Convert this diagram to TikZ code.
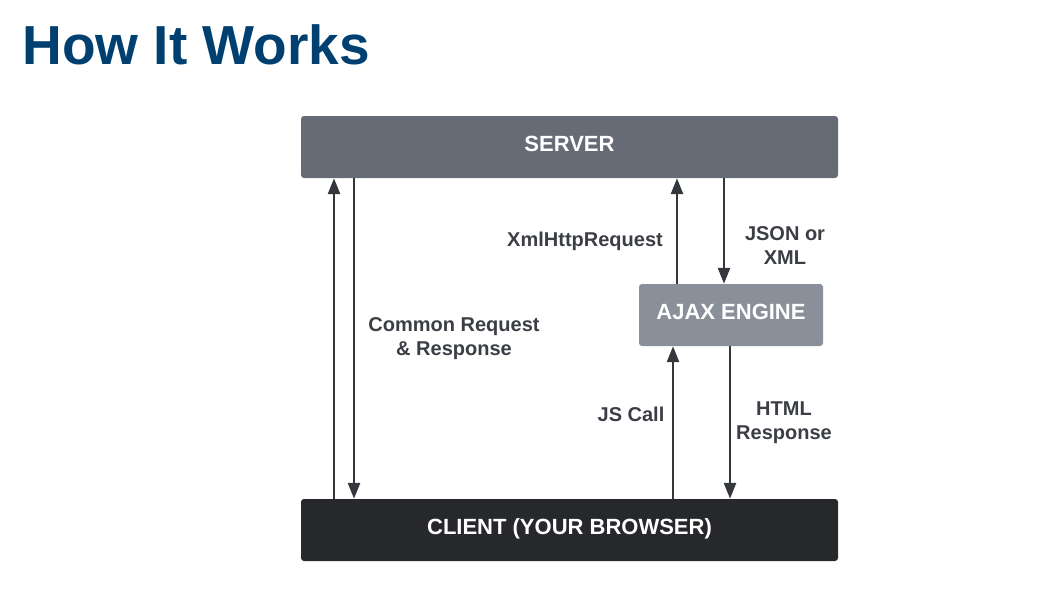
\documentclass[tikz,border=0pt]{standalone}
\usepackage{fontspec}
\setmainfont{Liberation Sans}
\usetikzlibrary{arrows.meta}

\definecolor{titleblue}{RGB}{0,64,112}
\definecolor{servergray}{RGB}{103,107,117}
\definecolor{ajaxgray}{RGB}{138,144,154}
\definecolor{clientdark}{RGB}{38,40,44}
\definecolor{linedark}{RGB}{52,55,60}
\definecolor{labelgray}{RGB}{59,62,68}

\tikzset{
  box/.style={rounded corners=3pt, draw=none, text=white, text height=16pt, text depth=7pt,
    font=\bfseries\fontsize{22}{26}\selectfont},
  arr/.style={draw=linedark, line width=2.6pt, -{Triangle[length=16pt,width=12pt]}},
  lbl/.style={text=labelgray, align=center, font=\bfseries\fontsize{20}{24}\selectfont}
}

\begin{document}
\begin{tikzpicture}[x=1pt,y=-1pt]
\useasboundingbox (0,0) rectangle (1049,608);

\node[text=titleblue, font=\bfseries\fontsize{55}{60}\selectfont, anchor=west] (title) at (19,45) {How It Works};

\node[box, fill=servergray, minimum width=537pt, minimum height=62pt] (server) at (569.5,147) {SERVER};
\node[box, fill=ajaxgray, minimum width=184pt, minimum height=62pt] (ajax) at (731,315) {AJAX ENGINE};
\node[box, fill=clientdark, minimum width=537pt, minimum height=62pt] (client) at (569.5,530) {CLIENT (YOUR BROWSER)};

% common request / response
\draw[arr] (334,0 |- client.north) -- (334,0 |- server.south);
\draw[arr] (354,0 |- server.south) -- (354,0 |- client.north);

% ajax <-> server
\draw[arr] (677,0 |- ajax.north) -- (677,0 |- server.south);
\draw[arr] (724,0 |- server.south) -- (724,0 |- ajax.north);

% client <-> ajax
\draw[arr] (673,0 |- client.north) -- (673,0 |- ajax.south);
\draw[arr] (730,0 |- ajax.south) -- (730,0 |- client.north);

\node[lbl] (common) at (454,339) {Common Request\\\& Response};
\node[lbl] (xhr) at (585,241) {XmlHttpRequest};
\node[lbl] (json) at (785,246) {JSON or\\XML};
\node[lbl] (jscall) at (631,414) {JS Call};
\node[lbl] (html) at (784,423) {HTML\\Response};
\end{tikzpicture}
\end{document}
